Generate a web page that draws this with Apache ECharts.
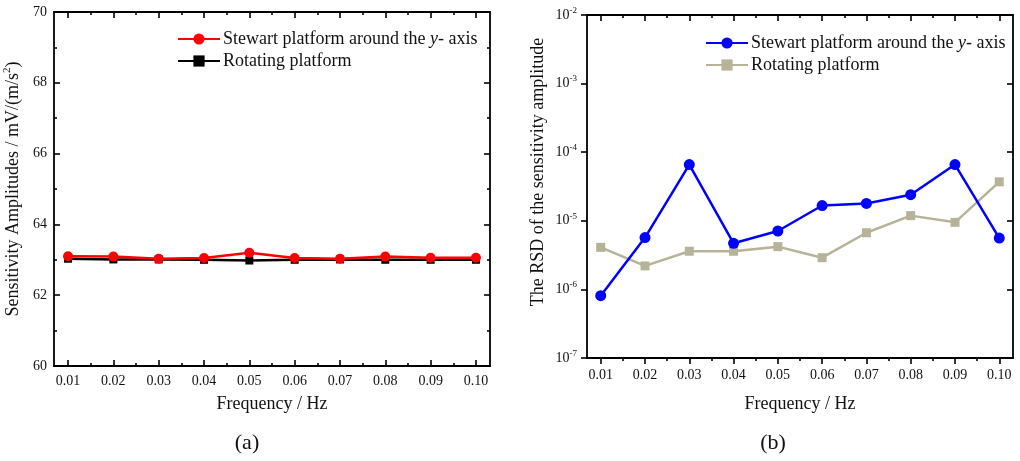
<!DOCTYPE html>
<html>
<head>
<meta charset="utf-8">
<script src="https://cdn.jsdelivr.net/npm/echarts@6/dist/echarts.min.js"></script>
<style>
html,body{margin:0;padding:0;background:#fff;}
#c{width:1020px;height:461px;}
</style>
</head>
<body>
<div id="c"></div>
<script>
// ---- data ----
const freq = [0.01, 0.02, 0.03, 0.04, 0.05, 0.06, 0.07, 0.08, 0.09, 0.10];
const stewartAmp = [63.10, 63.09, 63.03, 63.05, 63.20, 63.05, 63.03, 63.09, 63.06, 63.06];
const rotatingAmp = [63.03, 63.01, 63.01, 63.00, 62.98, 63.00, 63.01, 63.00, 63.00, 63.00];
const stewartRSD = [8.1e-7, 5.7e-6, 6.6e-5, 4.7e-6, 7.1e-6, 1.67e-5, 1.79e-5, 2.4e-5, 6.6e-5, 5.6e-6];
const rotatingRSD = [4.1e-6, 2.2e-6, 3.6e-6, 3.6e-6, 4.2e-6, 2.9e-6, 6.7e-6, 1.19e-5, 9.5e-6, 3.7e-5];
const ampTicks = [60, 62, 64, 66, 68, 70];
const rsdTicks = [1e-7, 1e-6, 1e-5, 1e-4, 1e-3, 1e-2];
const seriesNames = ['Stewart platform around the y- axis', 'Rotating platform'];
const xName = 'Frequency / Hz';
const yNameB = 'The RSD of the sensitivity amplitude';
const captions = ['(a)', '(b)'];

const FONT = "'Liberation Serif','Times New Roman',serif";
const midTicks = freq.slice(1).map((f, i) => +((f + freq[i]) / 2).toFixed(3));
const pairs = (vals) => freq.map((f, i) => [f, vals[i]]);

const chart = echarts.init(document.getElementById('c'), null, {renderer: 'canvas'});

function xAxes(gridIndex, bottomInside, nameGap) {
  const base = {
    type: 'value', gridIndex: gridIndex, min: 0.0069, max: 0.1031,
    splitLine: {show: false}
  };
  return [
    Object.assign({}, base, {
      position: 'bottom',
      axisLine: {show: true, onZero: false, lineStyle: {color: '#000', width: 1.8}},
      axisTick: {show: true, inside: bottomInside, length: 6, customValues: freq, lineStyle: {color: '#000', width: 1.6}},
      axisLabel: {show: true, customValues: freq, margin: bottomInside ? 8 : 10, color: '#111',
        fontFamily: FONT, fontSize: 14, formatter: v => v.toFixed(2)},
      name: xName, nameLocation: 'middle', nameGap: nameGap,
      nameTextStyle: {fontFamily: FONT, fontSize: 18, color: '#111'}
    }),
    Object.assign({}, base, {
      position: 'bottom',
      axisLine: {show: false, onZero: false},
      axisTick: {show: true, inside: bottomInside, length: 3, customValues: midTicks, lineStyle: {color: '#000', width: 1.6}},
      axisLabel: {show: false}
    }),
    Object.assign({}, base, {
      position: 'top',
      axisLine: {show: true, onZero: false, lineStyle: {color: '#000', width: 1.8}},
      axisTick: {show: true, inside: true, length: 6, customValues: freq, lineStyle: {color: '#000', width: 1.6}},
      axisLabel: {show: false}
    }),
    Object.assign({}, base, {
      position: 'top',
      axisLine: {show: false, onZero: false},
      axisTick: {show: true, inside: true, length: 3, customValues: midTicks, lineStyle: {color: '#000', width: 1.6}},
      axisLabel: {show: false}
    })
  ];
}

const supLabel = (v) => {
  const e = Math.round(Math.log10(v));
  return '{b|10}{s|' + e + '}';
};

const legendRich = {
  n: {fontFamily: FONT, fontSize: 18, color: '#111'},
  i: {fontFamily: FONT, fontSize: 18, fontStyle: 'italic', color: '#111'}
};
const legendFmt = (n) => n.indexOf('y-') >= 0 ? '{n|Stewart platform around the }{i|y}{n|- axis}' : '{n|' + n.trim() + '}';

const option = {
  animation: false,
  backgroundColor: '#fff',
  textStyle: {fontFamily: FONT},
  grid: [
    {left: 54, right: 530, top: 12, bottom: 95},
    {left: 587, right: 7, top: 15, bottom: 103}
  ],
  xAxis: xAxes(0, true, 29).concat(xAxes(1, false, 37)),
  yAxis: [
    {
      type: 'value', gridIndex: 0, position: 'left', min: ampTicks[0], max: ampTicks[ampTicks.length - 1], interval: 2,
      axisLine: {show: true, onZero: false, lineStyle: {color: '#000', width: 1.8}},
      axisTick: {show: true, inside: true, length: 6, lineStyle: {color: '#000', width: 1.6}},
      minorTick: {show: true, splitNumber: 2, length: 3, lineStyle: {color: '#000', width: 1.6}},
      axisLabel: {color: '#111', fontFamily: FONT, fontSize: 14, margin: 7},
      splitLine: {show: false},
      name: '{n|Sensitivity Amplitudes / mV/(m/s}{s|2}{n|)}', nameLocation: 'middle', nameGap: 30,
      nameTextStyle: {fontFamily: FONT, fontSize: 18, color: '#111',
        rich: {
          n: {fontFamily: FONT, fontSize: 18, color: '#111', lineHeight: 22},
          s: {fontFamily: FONT, fontSize: 11, color: '#111', verticalAlign: 'top', lineHeight: 12}
        }}
    },
    {
      type: 'value', gridIndex: 0, position: 'right', min: ampTicks[0], max: ampTicks[ampTicks.length - 1], interval: 2,
      axisLine: {show: true, onZero: false, lineStyle: {color: '#000', width: 1.8}},
      axisTick: {show: true, inside: true, length: 6, lineStyle: {color: '#000', width: 1.6}},
      minorTick: {show: true, splitNumber: 2, length: 3, lineStyle: {color: '#000', width: 1.6}},
      axisLabel: {show: false},
      splitLine: {show: false}
    },
    {
      type: 'log', logBase: 10, gridIndex: 1, position: 'left', min: rsdTicks[0], max: rsdTicks[rsdTicks.length - 1],
      axisLine: {show: true, onZero: false, lineStyle: {color: '#000', width: 1.8}},
      axisTick: {show: true, inside: false, length: 6, lineStyle: {color: '#000', width: 1.6}},
      axisLabel: {color: '#111', fontFamily: FONT, margin: 10, formatter: supLabel,
        rich: {
          b: {fontFamily: FONT, fontSize: 14, color: '#111', lineHeight: 18},
          s: {fontFamily: FONT, fontSize: 9, color: '#111', verticalAlign: 'top', lineHeight: 10}
        }},
      splitLine: {show: false}
    },
    {
      type: 'log', logBase: 10, gridIndex: 1, position: 'right', min: rsdTicks[0], max: rsdTicks[rsdTicks.length - 1],
      axisLine: {show: true, onZero: false, lineStyle: {color: '#000', width: 1.8}},
      axisTick: {show: true, inside: true, length: 6, lineStyle: {color: '#000', width: 1.6}},
      axisLabel: {show: false},
      splitLine: {show: false}
    }
  ],
  legend: [
    {
      data: seriesNames.map(n => n + ' '),
      left: 177, top: 30, orient: 'vertical', padding: 0, itemGap: 4, itemWidth: 42, itemHeight: 14,
      textStyle: {fontFamily: FONT, fontSize: 18, color: '#111', padding: [0, 0, 0, -2], rich: legendRich},
      formatter: legendFmt
    },
    {
      data: seriesNames,
      left: 705, top: 34, orient: 'vertical', padding: 0, itemGap: 4, itemWidth: 42, itemHeight: 14,
      textStyle: {fontFamily: FONT, fontSize: 18, color: '#111', padding: [0, 0, 0, -2], rich: legendRich},
      formatter: legendFmt
    }
  ],
  series: [
    {
      name: seriesNames[1] + ' ', type: 'line', xAxisIndex: 0, yAxisIndex: 0, data: pairs(rotatingAmp),
      symbol: 'rect', symbolSize: 8, itemStyle: {color: '#000'}, lineStyle: {color: '#000', width: 2.5}, z: 2
    },
    {
      name: seriesNames[0] + ' ', type: 'line', xAxisIndex: 0, yAxisIndex: 0, data: pairs(stewartAmp),
      symbol: 'circle', symbolSize: 10, itemStyle: {color: '#ff0000'}, lineStyle: {color: '#ff0000', width: 2.5}, z: 3
    },
    {
      name: seriesNames[1], type: 'line', xAxisIndex: 4, yAxisIndex: 2, data: pairs(rotatingRSD),
      symbol: 'rect', symbolSize: 9, itemStyle: {color: '#b6b398'}, lineStyle: {color: '#b6b398', width: 2.5}, z: 2
    },
    {
      name: seriesNames[0], type: 'line', xAxisIndex: 4, yAxisIndex: 2, data: pairs(stewartRSD),
      symbol: 'circle', symbolSize: 11, itemStyle: {color: '#0000ff'}, lineStyle: {color: '#0000ff', width: 2.5}, z: 3
    }
  ],
  graphic: [
    {type: 'text', x: 538, y: 172, rotation: Math.PI / 2,
      style: {text: yNameB, font: '18px ' + FONT, fill: '#111', align: 'center', verticalAlign: 'middle'}},
    {type: 'text', x: 247, y: 443,
      style: {text: captions[0], font: '22px ' + FONT, fill: '#111', align: 'center', verticalAlign: 'middle'}},
    {type: 'text', x: 773, y: 443,
      style: {text: captions[1], font: '22px ' + FONT, fill: '#111', align: 'center', verticalAlign: 'middle'}}
  ]
};
chart.setOption(option);
</script>
</body>
</html>
